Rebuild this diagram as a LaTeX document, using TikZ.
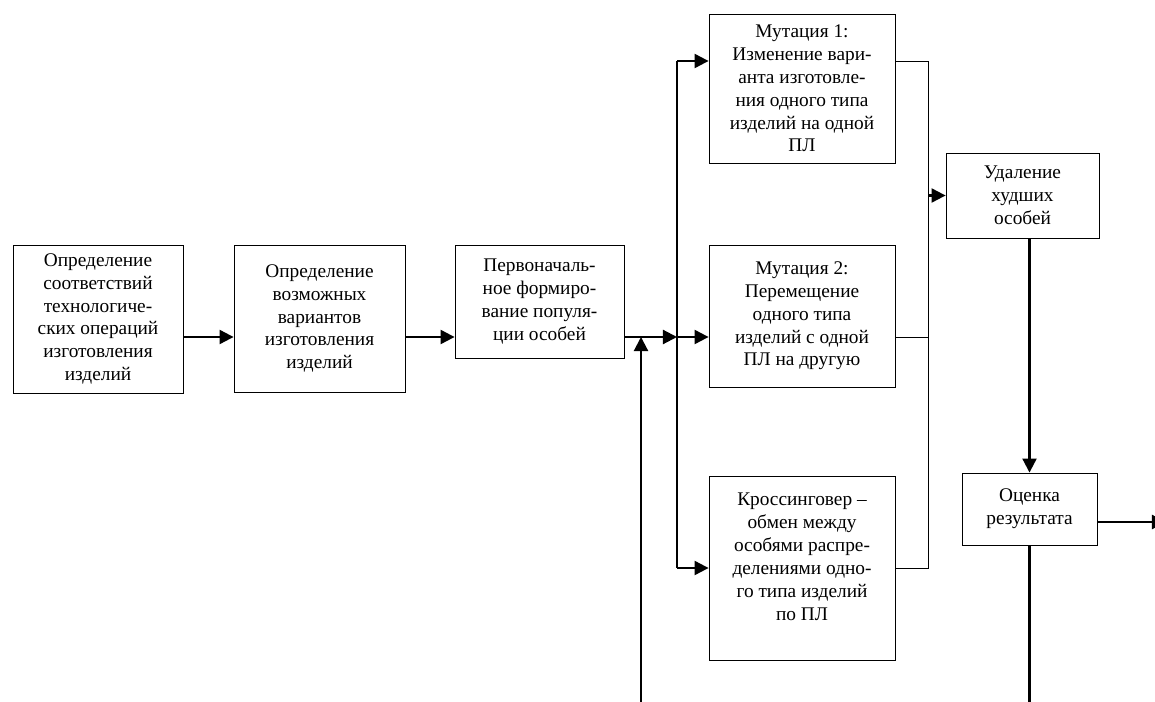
\documentclass[tikz,border=0pt]{standalone}
\usepackage{fontspec}
\setmainfont{Liberation Serif}
\usetikzlibrary{arrows.meta}
\usetikzlibrary{positioning}

\begin{document}
\begin{tikzpicture}[line join=miter,x=0.02cm,y=-0.02cm,>={Triangle[length=8pt,width=8pt]},
  stage/.style={draw,line width=0.5pt,inner sep=0pt,align=center,font=\fontsize{11}{13}\selectfont},
  flow/.style={line width=1.2pt},
  link/.style={line width=0.5pt}]
\useasboundingbox (0,0) rectangle (1155,702);
\clip (0,0) rectangle (1155,702);
\node[stage,minimum width=3.4cm,minimum height=2.96cm] (opr1) at (98,319) {Определение\\соответствий\\технологиче-\\ских операций\\изготовления\\изделий};
\node[stage,minimum width=3.42cm,minimum height=2.94cm] (opr2) at (319.5,318.5) {Определение\\возможных\\вариантов\\изготовления\\изделий};
\node[stage,minimum width=3.38cm,minimum height=2.26cm] (pop) at (539.5,301.5) {Первоначаль-\\ное формиро-\\вание популя-\\ции особей};
\node[stage,minimum width=3.72cm,minimum height=2.98cm] (mut1) at (802,88.5) {Мутация 1:\\Изменение вари-\\анта изготовле-\\ния одного типа\\изделий на одной\\ПЛ};
\node[stage,minimum width=3.72cm,minimum height=2.84cm] (mut2) at (802,316) {Мутация 2:\\Перемещение\\одного типа\\изделий с одной\\ПЛ на другую};
\node[stage,minimum width=3.72cm,minimum height=3.68cm] (cross) at (802,568) {Кроссинговер --\\обмен между\\особями распре-\\делениями одно-\\го типа изделий\\по ПЛ\\\mbox{}};
\node[stage,minimum width=3.06cm,minimum height=1.7cm] (udal) at (1022.5,195.5) {Удаление\\худших\\особей};
\node[stage,minimum width=2.7cm,minimum height=1.44cm] (ots) at (1029.5,509) {Оценка\\результата};
% levels of the connectors
\coordinate (row) at (0,337);
\coordinate (busN) at (677,61);
\coordinate (busS) at (677,568);
\coordinate (colN) at (928,61);
\coordinate (colS) at (928,568);
\coordinate (fb) at (641,702);
\coordinate (out) at (1166,522);
\coordinate (down) at (0,702);
% main chain
\draw[flow,->] (opr1.east |- row) -- (opr2.west |- row);
\draw[flow,->] (opr2.east |- row) -- (pop.west |- row);
\draw[flow,->] (pop.east |- row) -- (busN |- row);
\draw[flow] (busN) -- (busS);
\draw[flow,->] (busN) -- (mut1.west |- busN);
\draw[flow,->] (busN |- row) -- (mut2.west |- row);
\draw[flow,->] (busS) -- (cross.west);
\draw[flow,->] (fb) -- (fb |- row);
% collector
\draw[link] (mut1.east |- colN) -- (colN) -- (colS) -- (cross.east);
\draw[link] (mut2.east |- row) -- (colN |- row);
\draw[flow,->] (colN |- udal.west) -- (udal.west);
\draw[flow,->] (ots.north |- udal.south) -- (ots.north);
\draw[flow,->] (ots.east |- out) -- (out);
\draw[flow] (ots.south) -- (ots.south |- down);
\end{tikzpicture}
\end{document}
